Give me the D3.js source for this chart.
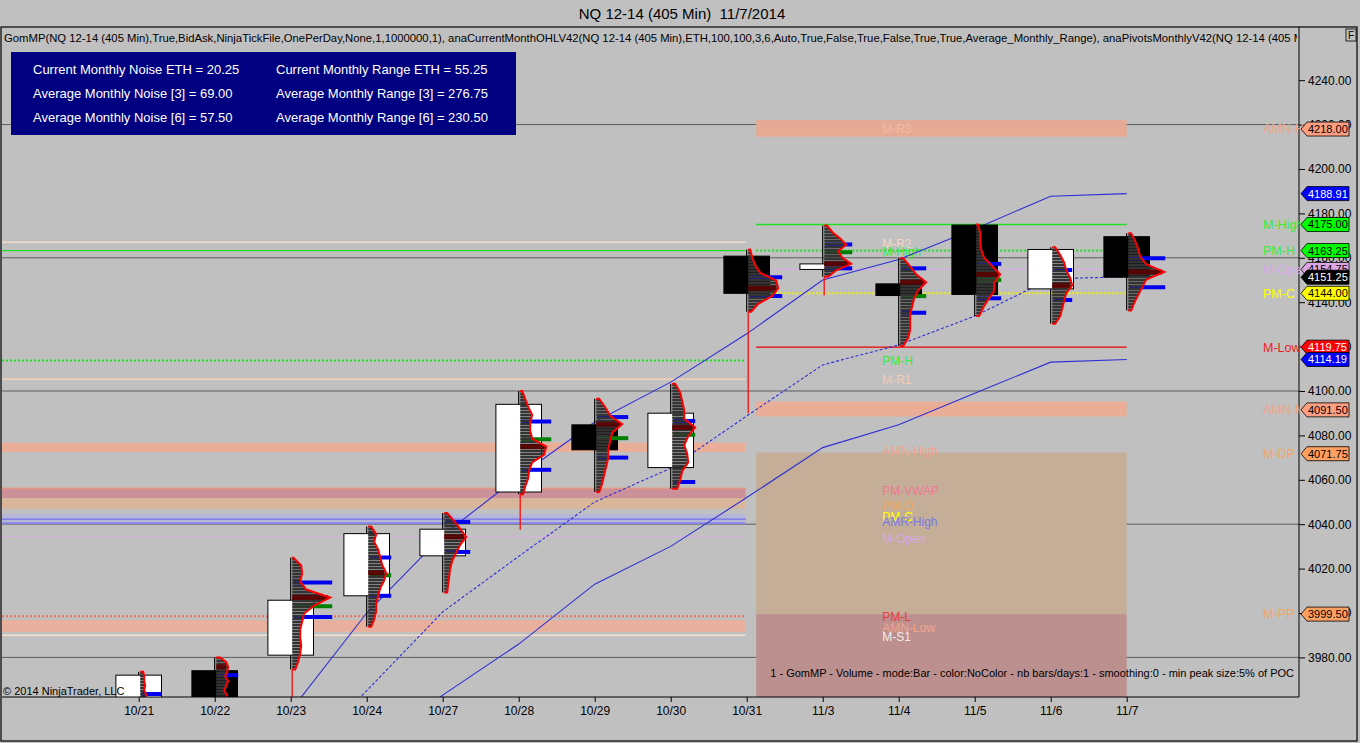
<!DOCTYPE html>
<html>
<head>
<meta charset="utf-8">
<script src="https://cdn.jsdelivr.net/npm/d3@7/dist/d3.min.js"></script>
<style>
  html, body { margin: 0; padding: 0; background: #c0c0c0; }
  svg { display: block; font-family: "Liberation Sans", Arial, sans-serif; }
</style>
</head>
<body>
<div id="chart"></div>
<script>
// ---- data ----
const dates = ['10/21', '10/22', '10/23', '10/24', '10/27', '10/28', '10/29', '10/30', '10/31', '11/3', '11/4', '11/5', '11/6', '11/7'];
const open  = [3960, 3974, 3981, 4007.75, 4025.75, 4054.5, 4084.75, 4065.5, 4160.75, 4154.75, 4148.25, 4174.75, 4146, 4169.5];
const high  = [3973.5, 3980, 4025, 4039, 4045, 4100, 4096.5, 4103.25, 4163.75, 4174.5, 4159.75, 4175, 4164.75, 4171];
const low   = [3955, 3950, 3974.5, 3993.75, 4009.25, 4053.5, 4054.5, 4056, 4135.75, 4151.5, 4120.25, 4133.75, 4130.25, 4136.25];
const close = [3972, 3958, 4005.75, 4035.75, 4037.75, 4094, 4073.5, 4090, 4144, 4157.25, 4143, 4143.5, 4163.75, 4151.25];
// red profile tails below the bar low
const tails = [null, null, 3950, null, null, 4037.5, null, null, 4090, 4143, null, null, null, null];

// volume profile per bar, top (high) to bottom (low)
const profiles = [
  [3, 4, 4, 5, 4, 6, 5, 7, 6, 8],
  [4, 10, 12, 11, 9, 12, 10, 8, 11, 10, 9, 12, 8, 6, 4],
  [1, 9, 10, 8, 14, 38, 22, 12, 10, 8, 8, 9, 8, 6, 3],
  [3, 8, 6, 10, 12, 14, 18, 16, 12, 10, 8, 8, 6, 3],
  [3, 10, 16, 22, 16, 12, 8, 6, 5, 4, 3],
  [2, 5, 8, 12, 10, 10, 12, 26, 24, 12, 9, 8, 5, 3],
  [3, 9, 14, 26, 16, 14, 12, 12, 10, 8, 6, 3],
  [3, 8, 10, 12, 12, 23, 16, 12, 15, 16, 10, 8, 5],
  [2, 4, 7, 12, 28, 30, 24, 10, 3],
  [3, 8, 16, 22, 14, 18, 27, 12, 4],
  [3, 10, 16, 26, 18, 14, 12, 10, 10, 10, 8, 3],
  [2, 4, 4, 5, 8, 16, 24, 18, 18, 12, 7, 3],
  [3, 8, 12, 14, 18, 20, 14, 12, 10, 8, 3],
  [3, 7, 10, 12, 18, 36, 18, 14, 10, 6, 3],
];
const vah   = [3963.5, 3972, 4013.75, 4025, 4041, 4086.25, 4088.25, 4086.5, 4151.25, 4166, 4155.25, 4157.25, 4154.5, 4159.75];
const val   = [3950, 3955, 3998.25, 4007.75, 4027.5, 4064.5, 4070, 4059, 4142.75, 4155.25, 4135.25, 4141.75, 4141, 4146.75];
const vwap  = [null, null, 4003, 4017, null, 4078.25, 4078.75, 4080.25, null, 4162.5, 4142.75, 4150, null, null];
const vaVol = [21, 22, 40, 23, 26, 31, 32, 23, 34, 28, 26, 25, 20, 37];

// monthly range bands (upper, middle dashed, lower)
const upperBand = [null, null, 3956, 4000, 4035, 4061.5, 4086, 4104, 4125.75, 4150, 4159.25, 4173, 4187.75, 4188.91];
const midBand   = [null, null, 3931, 3965, 4000.5, 4025.5, 4050, 4065.25, 4088.75, 4111.75, 4120.75, 4133.75, 4150.5, 4151.5];
const lowerBand = [null, null, null, 3938, 3963, 3986, 4013, 4030, 4052, 4074.5, 4084.75, 4099, 4113, 4114.19];

// October levels (left part)
const prevLevels = [['M-R2', 4167], ['M-High', 4163.25], ['PM-H', 4113.75], ['M-R1', 4105.25],
  ['PM-VWAP', 4056.25], ['AMR-High', 4042.25], ['AMR-Low', 4040.5], ['M-Open', 4034.5], ['PM-L', 3998.5], ['M-S1', 3990]];
const prevBands = [['AMN', 4072.5, 4076.75], ['PM-VWAP', 4051.75, 4056.25], ['PM-O', 4047, 4051.75],
  ['AMR', 4040, 4044.5], ['AMN-Low', 3991.5, 3996.75]];

// November levels (right part)
const curBands = [['M-R3', 4214.5, 4222], ['AMN', 4088.5, 4095.25], ['M-DP', 3999.5, 4072.25], ['M-PP', 3940, 3999.5]];
const curLevels = [['M-R3', 4218], ['M-High', 4175], ['PM-H', 4163.25], ['M-Open', 4154.75], ['PM-C', 4144],
  ['M-Low', 4119.75], ['AMN', 4092.25]];
const midLabels = [['M-R3', 4218], ['M-R2', 4166.5], ['M-High', 4162.9], ['PM-H', 4113.75], ['M-R1', 4105],
  ['AMN-High', 4073.25], ['PM-VWAP', 4055], ['PM-O', 4048.5], ['PM-C', 4043.5], ['AMR-High', 4041.25],
  ['M-Open', 4033.5], ['PM-L', 3998.25], ['AMN-Low', 3993.5], ['M-S1', 3989.5]];

// price tags on the axis
const tagPrices = [4218, 4188.91, 4175, 4163.25, 4154.75, 4151.25, 4144, 4119.75, 4114.19, 4091.5, 4071.75, 3999.5];
const tagKinds  = ['AMN-High', 'band', 'M-High', 'PM-H', 'M-Open', 'last', 'PM-C', 'M-Low', 'band', 'AMN-Mid', 'M-DP', 'M-PP'];

const infoRows = [
  ['Current Monthly Noise ETH = 20.25', 'Current Monthly Range ETH = 55.25'],
  ['Average Monthly Noise [3] = 69.00', 'Average Monthly Range [3] = 276.75'],
  ['Average Monthly Noise [6] = 57.50', 'Average Monthly Range [6] = 230.50'],
];
const title = 'NQ 12-14 (405 Min)  11/7/2014';
const indicatorLine = 'GomMP(NQ 12-14 (405 Min),True,BidAsk,NinjaTickFile,OnePerDay,None,1,1000000,1), anaCurrentMonthOHLV42(NQ 12-14 (405 Min),ETH,100,100,3,6,Auto,True,False,True,False,True,True,Average_Monthly_Range), anaPivotsMonthlyV42(NQ 12-14 (405 Min),ETH)';
const footNote = '1 - GomMP - Volume - mode:Bar - color:NoColor - nb bars/days:1 - smoothing:0 - min peak size:5% of POC';

// ---- styles ----
const LEVEL_STYLE = {
  'M-R2':     { c: '#f3dac8', w: 1.5 },
  'M-High':   { c: '#22dd22', w: 1.3 },
  'PM-H':     { c: '#22dd22', w: 2, dash: '2,2' },
  'M-R1':     { c: '#f3d0b4', w: 1.5 },
  'PM-VWAP':  { c: '#f09870', w: 1 },
  'AMR-High': { c: '#7070ee', w: 1.3 },
  'AMR-Low':  { c: '#7070ee', w: 1.3 },
  'M-Open':   { c: '#d6b2e0', w: 1.3 },
  'PM-L':     { c: '#f07058', w: 2, dash: '2,2' },
  'M-S1':     { c: '#f6e0d0', w: 1.5 },
  'M-R3':     { c: '#eeaa92', w: 1 },
  'PM-C':     { c: '#eeee00', w: 2, dash: '2,2' },
  'M-Low':    { c: '#ee0000', w: 1.2 },
  'AMN':      { c: '#f0a58c', w: 1 },
};
const BAND_FILL = {
  'AMN': '#e8ae98', 'PM-VWAP': '#cc909a', 'PM-O': '#d9b59a', 'AMR': '#b6b6d8', 'AMN-Low': '#e8b09c',
  'M-R3': '#e6aa94', 'M-DP': '#c4ae98', 'M-PP': '#bd9090',
};
const LABEL_COLOR = {
  'M-R3': '#f0bca8', 'M-R2': '#f4d8c8', 'M-High': '#33ee33', 'PM-H': '#33ee33', 'M-R1': '#f2cdb8',
  'AMN-High': '#f2a488', 'PM-VWAP': '#f07896', 'PM-O': '#f0a860', 'PM-C': '#ffff00', 'AMR-High': '#7878e8',
  'M-Open': '#d8a8e6', 'PM-L': '#e83c3c', 'AMN-Low': '#f2a488', 'M-S1': '#f4eaea', 'M-Low': '#ee2020',
  'AMN-Mid': '#f2a488', 'M-DP': '#f0a868', 'M-PP': '#f0a868',
};
const TAG_STYLE = {
  'AMN-High': ['#ff9e80', '#000'], 'AMN-Mid': ['#ff9e80', '#000'], 'band': ['#0000ff', '#fff'],
  'M-High': ['#00ff00', '#000'], 'PM-H': ['#00ff00', '#000'], 'M-Open': ['#dca6e6', '#000'],
  'last': ['#000000', '#fff'], 'PM-C': ['#ffff00', '#000'], 'M-Low': ['#ff0000', '#fff'],
  'M-DP': ['#ffa060', '#000'], 'M-PP': ['#ffa060', '#000'],
};

// ---- layout ----
const W = 1360, H = 743;
const P = { left: 2, top: 27, right: 1299, bottom: 697 };

const x = d3.scalePoint().domain(dates).range([138.7, 1126.7]);
const step = x.step();
const y = d3.scaleLinear().domain([3962.16, 4263.96]).range([P.bottom, P.top]);
const vol = d3.scaleLinear().domain([0, 40]).range([0, 40]);
const bodyW = step * 0.6;

const prevX0 = P.left, prevX1 = x('10/31') - 1;
const curX0 = x('10/31') + step * 0.125, curX1 = x('11/7');
const labelX = curX0 + (curX1 - curX0) * 0.34;

const svg = d3.select('#chart').append('svg')
  .attr('width', W).attr('height', H).attr('viewBox', `0 0 ${W} ${H}`);
svg.append('rect').attr('width', W).attr('height', H).attr('fill', '#c0c0c0');

const defs = svg.append('defs');
defs.append('clipPath').attr('id', 'plot').append('rect')
  .attr('x', P.left).attr('y', P.top).attr('width', P.right - P.left).attr('height', P.bottom - P.top);
defs.append('clipPath').attr('id', 'strip').append('rect')
  .attr('x', 0).attr('y', P.top).attr('width', P.right - 2).attr('height', 20);
const pat = defs.append('pattern').attr('id', 'rows')
  .attr('patternUnits', 'userSpaceOnUse').attr('width', 10).attr('height', 3);
pat.append('rect').attr('width', 10).attr('height', 2.6).attr('fill', '#333333');

// title + frame
svg.append('text').attr('x', 682).attr('y', 19).attr('text-anchor', 'middle')
  .attr('font-size', 15).style('white-space', 'pre').attr('fill', '#000').text(title);
svg.append('rect').attr('x', 1).attr('y', P.top).attr('width', W - 4).attr('height', H - P.top - 2)
  .attr('fill', 'none').attr('stroke', '#000').attr('stroke-width', 1.2);

const g = svg.append('g').attr('clip-path', 'url(#plot)');

// gridlines
g.append('g').selectAll('line').data(d3.range(3980, 4221, 60)).join('line')
  .attr('x1', P.left).attr('x2', P.right).attr('y1', (d) => y(d)).attr('y2', (d) => y(d))
  .attr('stroke', '#5c5c5c').attr('stroke-width', 1);

// bands
function drawBands(rows, x0, x1) {
  g.append('g').selectAll('rect').data(rows).join('rect')
    .attr('x', x0).attr('width', x1 - x0)
    .attr('y', (d) => y(d[2])).attr('height', (d) => y(d[1]) - y(d[2]))
    .attr('fill', (d) => BAND_FILL[d[0]]);
}
drawBands(prevBands, prevX0, prevX1);
drawBands(curBands, curX0, curX1);

// level lines
function drawLevels(rows, x0, x1) {
  g.append('g').selectAll('line').data(rows).join('line')
    .attr('x1', x0).attr('x2', x1).attr('y1', (d) => y(d[1])).attr('y2', (d) => y(d[1]))
    .attr('stroke', (d) => LEVEL_STYLE[d[0]].c)
    .attr('stroke-width', (d) => LEVEL_STYLE[d[0]].w)
    .attr('stroke-dasharray', (d) => LEVEL_STYLE[d[0]].dash || null);
}
drawLevels(prevLevels, prevX0, prevX1);
drawLevels(curLevels, curX0, curX1);

// level labels in the middle of the month
g.append('g').selectAll('text').data(midLabels).join('text')
  .attr('x', labelX).attr('y', (d) => y(d[1])).attr('dy', '0.35em')
  .attr('font-size', 12).attr('fill', (d) => LABEL_COLOR[d[0]]).text((d) => d[0]);

// monthly range lines
const bandLine = (vals) => d3.line()
  .defined((d, i) => vals[i] != null)
  .x((d, i) => x(dates[i])).y((d, i) => y(vals[i]))(vals);
[[upperBand, null], [midBand, '3,2'], [lowerBand, null]].forEach(([vals, dash]) => {
  g.append('path').attr('d', bandLine(vals)).attr('fill', 'none')
    .attr('stroke', '#2f2fd6').attr('stroke-width', 1.1).attr('stroke-dasharray', dash);
});

// candles
const candles = g.append('g');
dates.forEach((d, i) => {
  const cx = x(d);
  const top = Math.max(open[i], close[i]), bot = Math.min(open[i], close[i]);
  candles.append('line').attr('x1', cx).attr('x2', cx)
    .attr('y1', y(high[i])).attr('y2', y(low[i])).attr('stroke', '#000').attr('stroke-width', 1.2);
  candles.append('rect').attr('x', cx - bodyW / 2).attr('width', bodyW)
    .attr('y', y(top)).attr('height', Math.max(2, y(bot) - y(top)))
    .attr('fill', close[i] >= open[i] ? '#fff' : '#000').attr('stroke', '#000').attr('stroke-width', 1);
});

// volume profiles
const prof = g.append('g');
dates.forEach((d, i) => {
  const cx = x(d) + 1.5;
  const p = profiles[i];
  const lv = p.map((v, k) => ({ price: high[i] - (high[i] - low[i]) * k / (p.length - 1), v }));

  // value area / vwap marks (drawn under the histogram)
  [vah[i], val[i]].forEach((pr) => {
    prof.append('line').attr('x1', cx + 1).attr('x2', cx + vol(vaVol[i]))
      .attr('y1', y(pr)).attr('y2', y(pr)).attr('stroke', '#0000ee').attr('stroke-width', 4);
  });
  if (vwap[i] != null) {
    prof.append('line').attr('x1', cx + 1).attr('x2', cx + vol(vaVol[i]))
      .attr('y1', y(vwap[i])).attr('y2', y(vwap[i])).attr('stroke', '#008000').attr('stroke-width', 4);
  }

  prof.append('path')
    .attr('d', d3.area().x0(cx).x1((e) => cx + vol(e.v)).y((e) => y(e.price))(lv))
    .attr('fill', 'url(#rows)');

  const peak = d3.maxIndex(lv, (e) => e.v);
  prof.append('rect').attr('x', cx).attr('width', vol(lv[peak].v) - 2)
    .attr('y', y(lv[peak].price) - 2.5).attr('height', 5).attr('fill', '#5a0000').attr('opacity', 0.9);

  const outline = [{ price: high[i], v: 0 }, ...lv, { price: low[i], v: 0 }];
  prof.append('path')
    .attr('d', d3.line().x((e) => cx + vol(e.v)).y((e) => y(e.price))(outline))
    .attr('fill', 'none').attr('stroke', '#ff0000').attr('stroke-width', 2);

  if (tails[i] != null) {
    prof.append('line').attr('x1', cx).attr('x2', cx).attr('y1', y(low[i])).attr('y2', y(tails[i]))
      .attr('stroke', '#ff0000').attr('stroke-width', 1.2);
  }
});

// info panel
const info = svg.append('g');
info.append('rect').attr('x', 11).attr('y', 52).attr('width', 505).attr('height', 83).attr('fill', '#000080');
infoRows.forEach((r, k) => {
  info.append('text').attr('x', 33).attr('y', 74 + k * 24).attr('font-size', 13).attr('fill', '#fff').text(r[0]);
  info.append('text').attr('x', 276).attr('y', 74 + k * 24).attr('font-size', 13).attr('fill', '#fff').text(r[1]);
});

// indicator line
svg.append('g').attr('clip-path', 'url(#strip)').append('text')
  .attr('x', 4).attr('y', 42).attr('font-size', 11.3).attr('fill', '#000').text(indicatorLine);

// footers
svg.append('text').attr('x', 3).attr('y', 695).attr('font-size', 11).attr('fill', '#000').text('\u00a9 2014 NinjaTrader, LLC');
svg.append('text').attr('x', 1294).attr('y', 677).attr('text-anchor', 'end').attr('font-size', 11).attr('fill', '#000').text(footNote);

// axes
svg.append('line').attr('x1', P.left).attr('x2', P.right).attr('y1', P.bottom).attr('y2', P.bottom).attr('stroke', '#000');
svg.append('line').attr('x1', P.right).attr('x2', P.right).attr('y1', P.top).attr('y2', P.bottom).attr('stroke', '#000');

const yAx = svg.append('g').attr('transform', `translate(${P.right},0)`)
  .call(d3.axisRight(y).tickValues(d3.range(3980, 4241, 20)).tickFormat(d3.format('.2f')).tickSize(6).tickPadding(3));
yAx.select('.domain').remove();
yAx.selectAll('text').attr('font-size', 12).attr('font-family', '"Liberation Sans", Arial, sans-serif').attr('fill', '#000');

const xAx = svg.append('g').attr('transform', `translate(0,${P.bottom})`)
  .call(d3.axisBottom(x).tickSize(5).tickPadding(4));
xAx.select('.domain').remove();
xAx.selectAll('text').attr('font-size', 12).attr('font-family', '"Liberation Sans", Arial, sans-serif').attr('fill', '#000');

// right-hand level labels, then price tags over them
const tagX = P.right + 2;
tagPrices.forEach((pr, k) => {
  const kind = tagKinds[k];
  if (kind === 'band' || kind === 'last') return;
  svg.append('text').attr('x', 1263).attr('y', y(pr)).attr('dy', '0.35em')
    .attr('font-size', 12.5).attr('fill', LABEL_COLOR[kind]).text(kind);
});
tagPrices.forEach((pr, k) => {
  const [bg, fg] = TAG_STYLE[tagKinds[k]];
  const yy = y(pr);
  svg.append('path')
    .attr('d', `M${tagX},${yy} L${tagX + 6},${yy - 7} L${tagX + 48},${yy - 7} L${tagX + 48},${yy + 7} L${tagX + 6},${yy + 7} Z`)
    .attr('fill', bg).attr('stroke', '#000').attr('stroke-width', 0.8);
  svg.append('text').attr('x', tagX + 7).attr('y', yy).attr('dy', '0.36em')
    .attr('font-size', 11).attr('fill', fg).text(d3.format('.2f')(pr));
});

// "F" box
svg.append('rect').attr('x', 1346).attr('y', 29).attr('width', 10).attr('height', 12)
  .attr('fill', '#c0c0c0').attr('stroke', '#000').attr('stroke-width', 0.8);
svg.append('text').attr('x', 1351).attr('y', 39).attr('text-anchor', 'middle').attr('font-size', 10).text('F');
</script>
</body>
</html>
